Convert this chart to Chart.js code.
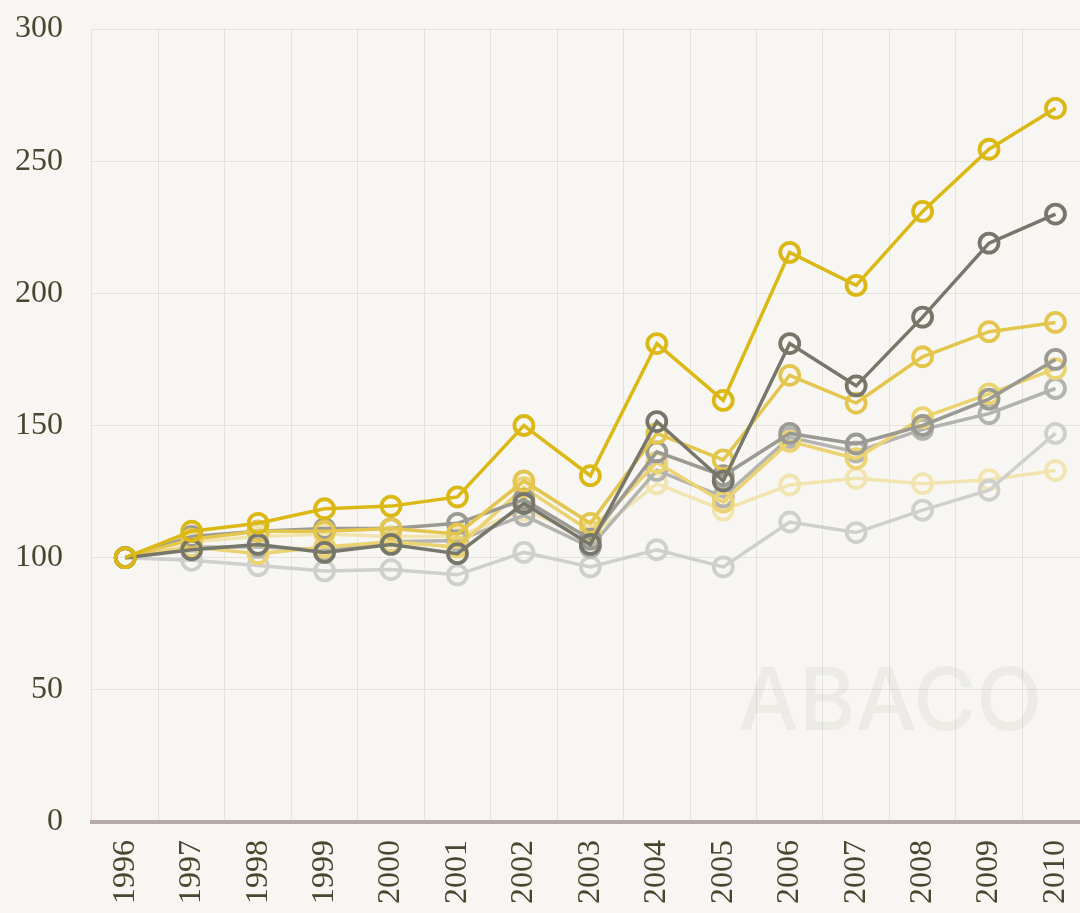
<!DOCTYPE html>
<html>
<head>
<meta charset="utf-8">
<script src="https://cdn.jsdelivr.net/npm/chart.js@4/dist/chart.umd.min.js"></script>
<style>
  html, body { margin: 0; padding: 0; background: #f7f6f2; overflow: hidden; }
  #wrap { width: 1102px; height: 913px; position: relative; }
</style>
</head>
<body>
<div id="wrap"><canvas id="c" width="1102" height="913"></canvas></div>
<script>
const years = ['1996','1997','1998','1999','2000','2001','2002','2003','2004','2005','2006','2007','2008','2009','2010'];
const yTicks = [0, 50, 100, 150, 200, 250, 300];

const seriesGold      = [100,110,113,118.5,119.5,123,150,131,181,159.5,215.5,203,231,254.5,270];
const seriesDarkGray  = [100,103,105,102,105,101.5,120.5,105,151.5,129,181,165,191,219,230];
const seriesLightGold = [100,107,110,110,111,109,129,113,147,137,169,158.5,176,185.5,189];
const seriesMidGray   = [100,108,110,111,111,113,122,107,140,131,147,143,150,160,175];
const seriesPaleGold  = [100,104,101.5,104,106,104,126.5,110,136,121,144,137.5,153,162,171.5];
const seriesGray      = [100,104,104,103,106,106.5,116,104,133,123,145.5,140,148.5,154.5,164];
const seriesLightGray = [100,99,97,95,95.5,93.5,102,96.5,103,96.5,113.5,109.5,118,125.5,147];
const seriesCream     = [100,106,108,109,108,108,118,108,128,118,127.5,130,128,129.5,133];

const seriesList = [
  { data: seriesGold, color: '#dcb814' },
  { data: seriesDarkGray, color: '#76766b' },
  { data: seriesLightGold, color: '#e4c64e' },
  { data: seriesMidGray, color: '#9a9a93' },
  { data: seriesPaleGold, color: '#ebd372' },
  { data: seriesGray, color: '#b3b3af' },
  { data: seriesLightGray, color: '#cfcfcc' },
  { data: seriesCream, color: '#f1e4ae' }
];

const datasets = seriesList.map(s => ({
  data: s.data,
  borderColor: s.color,
  pointBorderColor: s.color,
  pointBackgroundColor: 'rgba(0,0,0,0)',
  borderWidth: 3.5,
  pointRadius: 9.5,
  pointBorderWidth: 3.8,
  tension: 0,
  fill: false
}));

const bgPlugin = {
  id: 'bg',
  beforeDraw(chart) {
    const ctx = chart.ctx;
    ctx.save();
    ctx.fillStyle = '#f7f6f2';
    ctx.fillRect(0, 0, chart.width, chart.height);
    ctx.fillStyle = '#ecebe5';
    ctx.font = '500 86px Inter, "Noto Sans", sans-serif';
    ctx.textAlign = 'left';
    ctx.textBaseline = 'alphabetic';
    ctx.fillText('ABACO', 738, 730);
    ctx.restore();
  }
};

const serif = '"Liberation Serif", "DejaVu Serif", serif';

new Chart(document.getElementById('c'), {
  type: 'line',
  data: { labels: years, datasets },
  plugins: [bgPlugin],
  options: {
    responsive: false,
    animation: false,
    layout: { padding: { top: 29, left: 0, right: 0, bottom: 0 } },
    plugins: { legend: { display: false }, tooltip: { enabled: false } },
    scales: {
      x: {
        offset: true,
        grid: { offset: true, color: 'rgba(60,50,40,0.09)', lineWidth: 1, drawTicks: false },
        border: { display: true, color: '#b7aaaa', width: 4 },
        ticks: {
          autoSkip: false, minRotation: 90, maxRotation: 90, padding: 18,
          color: '#47462e', font: { family: serif, size: 32 }
        },
        afterFit(scale) { scale.height = 91; scale.paddingLeft = 0; scale.paddingRight = 0; }
      },
      y: {
        min: 0, max: 300,
        afterBuildTicks(scale) { scale.ticks = yTicks.map(v => ({ value: v })); },
        grid: { color: 'rgba(60,50,40,0.09)', lineWidth: 1, drawTicks: false },
        border: { display: false },
        ticks: {
          padding: 29, color: '#47462e', font: { family: serif, size: 32 }
        },
        afterFit(scale) { scale.width = 92; scale.paddingTop = 0; scale.paddingBottom = 0; }
      }
    }
  }
});
</script>
</body>
</html>
